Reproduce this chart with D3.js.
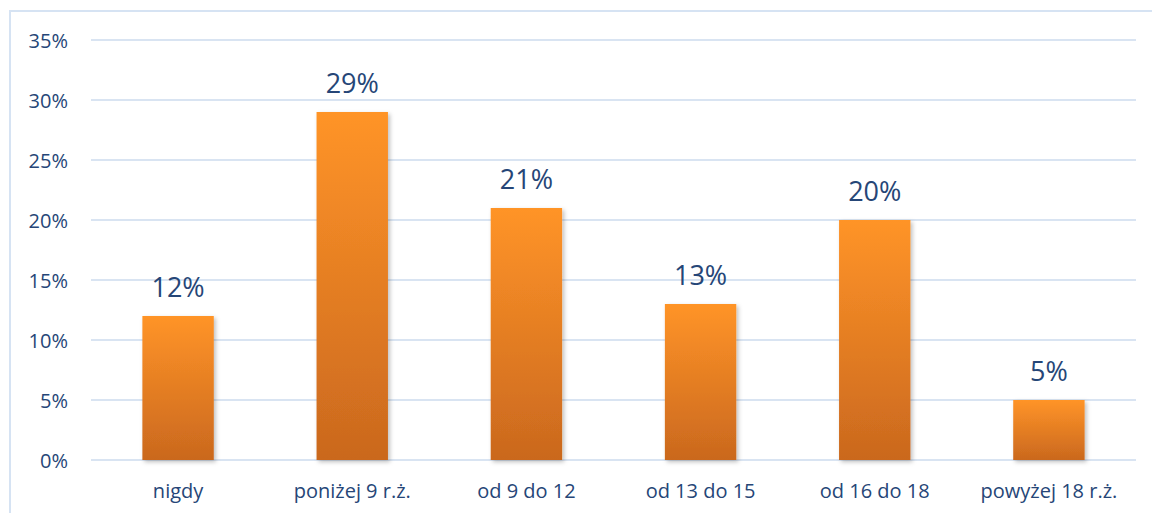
<!DOCTYPE html>
<html>
<head>
<meta charset="utf-8">
<script src="https://cdn.jsdelivr.net/npm/d3@7"></script>
<style>
  body { margin: 0; background: #fff; }
  svg { display: block; font-family: "Open Sans", sans-serif; }
</style>
</head>
<body>
<div id="chart"></div>
<script>
// age groups and share of answers
const categories = ["nigdy", "poniżej 9 r.ż.", "od 9 do 12", "od 13 do 15", "od 16 do 18", "powyżej 18 r.ż."];
const values = [0.12, 0.29, 0.21, 0.13, 0.20, 0.05];
const yTicks = [0, 0.05, 0.10, 0.15, 0.20, 0.25, 0.30, 0.35];

const width = 1152, height = 513;
const margin = { top: 40, right: 16, bottom: 53, left: 91 };
const textColor = "#264677";

const svg = d3.select("#chart")
  .append("svg")
  .attr("width", width)
  .attr("height", height);

// --- defs: gradient + shadow ---
const defs = svg.append("defs");
const grad = defs.append("linearGradient")
  .attr("id", "barGrad")
  .attr("x1", 0).attr("y1", 0).attr("x2", 0).attr("y2", 1);
grad.append("stop").attr("offset", "0%").attr("stop-color", "#ff9428");
grad.append("stop").attr("offset", "100%").attr("stop-color", "#ca681e");

const shadow = defs.append("filter")
  .attr("id", "shadow")
  .attr("x", "-20%").attr("y", "-10%").attr("width", "150%").attr("height", "130%");
shadow.append("feDropShadow")
  .attr("dx", 2).attr("dy", 2).attr("stdDeviation", 2)
  .attr("flood-color", "#000").attr("flood-opacity", 0.25);

// --- outer frame ---
svg.append("rect")
  .attr("x", 10).attr("y", 11)
  .attr("width", width + 20).attr("height", height + 20)
  .attr("fill", "none")
  .attr("stroke", "#d6e3f3")
  .attr("stroke-width", 2);

// --- scales ---
const x = d3.scaleBand()
  .domain(categories)
  .range([margin.left, width - margin.right])
  .paddingInner(0.59)
  .paddingOuter(0.295);

const y = d3.scaleLinear()
  .domain([0, 0.35])
  .range([height - margin.bottom, margin.top]);

// --- grid ---
svg.append("g")
  .selectAll("line")
  .data(yTicks)
  .join("line")
  .attr("x1", margin.left)
  .attr("x2", width - margin.right)
  .attr("y1", d => y(d))
  .attr("y2", d => y(d))
  .attr("stroke", "#d9e4f2")
  .attr("stroke-width", 2);

// --- y axis labels ---
const yAxis = svg.append("g")
  .attr("transform", `translate(${margin.left - 23},0)`)
  .call(d3.axisLeft(y).tickValues(yTicks).tickFormat(d3.format(".0%")).tickSize(0).tickPadding(0));
yAxis.select(".domain").remove();
yAxis.selectAll("text")
  .attr("fill", textColor)
  .attr("dy", "0.36em")
  .style("font-size", "20px")
  .style("font-family", "'Open Sans', sans-serif");

// --- bars ---
svg.append("g")
  .selectAll("rect")
  .data(values)
  .join("rect")
  .attr("x", (d, i) => x(categories[i]))
  .attr("y", d => y(d))
  .attr("width", x.bandwidth())
  .attr("height", d => y(0) - y(d))
  .attr("fill", "url(#barGrad)")
  .attr("filter", "url(#shadow)");

// --- value labels ---
svg.append("g")
  .selectAll("text")
  .data(values)
  .join("text")
  .attr("x", (d, i) => x(categories[i]) + x.bandwidth() / 2)
  .attr("y", d => y(d) - 19)
  .attr("text-anchor", "middle")
  .attr("fill", textColor)
  .style("font-size", "27px")
  .text(d => d3.format(".0%")(d));

// --- x axis labels ---
const xAxis = svg.append("g")
  .attr("transform", `translate(0,${y(0)})`)
  .call(d3.axisBottom(x).tickSize(0).tickPadding(0));
xAxis.select(".domain").remove();
xAxis.selectAll("text")
  .attr("fill", textColor)
  .attr("dy", 0)
  .attr("y", 38)
  .style("font-size", "20px")
  .style("font-family", "'Open Sans', sans-serif");
</script>
</body>
</html>
